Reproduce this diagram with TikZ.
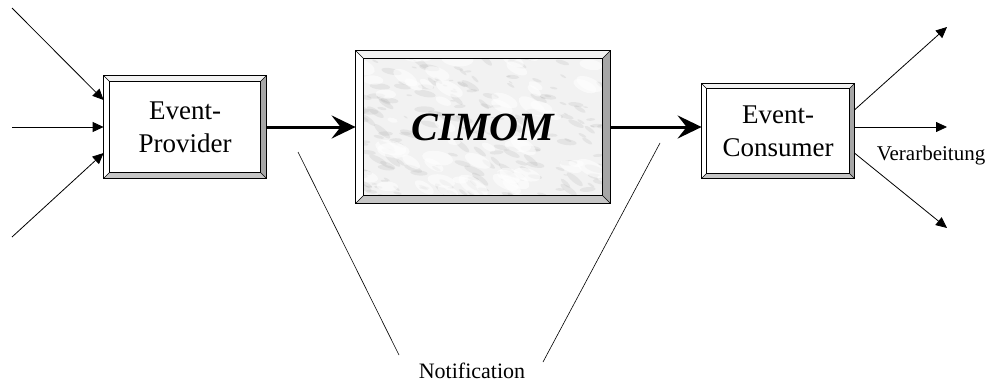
\documentclass[tikz,border=0pt]{standalone}
\usepackage{fontspec}
\setmainfont{Liberation Serif}
\usetikzlibrary{arrows.meta,calc,backgrounds}

\tikzset{
  box/.style={draw, line width=0.8pt, inner sep=0pt, align=center, font=\fontsize{27}{33}\selectfont},
  thin arrow/.style={line width=0.8pt, -{Triangle[length=11pt,width=10pt]}},
  thick arrow/.style={line width=3pt, -{Stealth[length=24pt,width=23pt,inset=9pt]}},
  label text/.style={font=\fontsize{21}{24}\selectfont, inner sep=0pt},
}

% beveled frame round a node: #1 node name, #2 bevel width
\newcommand{\bevelframe}[2]{%
  \fill[gray!10] (#1.north west) -- (#1.north east) -- ($(#1.north east)+(-#2,#2)$) -- ($(#1.north west)+(#2,#2)$) -- cycle;
  \fill[white] (#1.north west) -- (#1.south west) -- ($(#1.south west)+(#2,-#2)$) -- ($(#1.north west)+(#2,#2)$) -- cycle;
  \fill[gray!70] (#1.north east) -- (#1.south east) -- ($(#1.south east)+(-#2,-#2)$) -- ($(#1.north east)+(-#2,#2)$) -- cycle;
  \fill[gray!45] (#1.south west) -- (#1.south east) -- ($(#1.south east)+(-#2,-#2)$) -- ($(#1.south west)+(#2,-#2)$) -- cycle;
  \draw[line width=0.6pt] (#1.north west) -- ($(#1.north west)+(#2,#2)$) (#1.north east) -- ($(#1.north east)+(-#2,#2)$)
    (#1.south west) -- ($(#1.south west)+(#2,-#2)$) (#1.south east) -- ($(#1.south east)+(-#2,-#2)$);
  \draw[line width=0.8pt] ($(#1.north west)+(#2,#2)$) rectangle ($(#1.south east)+(-#2,-#2)$);
  \draw[line width=0.8pt] (#1.north west) rectangle (#1.south east);
}

\begin{document}
\begin{tikzpicture}[x=1pt, y=-1pt]
  \useasboundingbox (0,0) rectangle (993,383);

  %boxes
  \node[box, minimum width=162pt, minimum height=102pt] (prov) at (185,127) {Event-\\Provider};
  \node[box, minimum width=254pt, minimum height=152pt, font=\fontsize{40}{44}\selectfont\bfseries\itshape] (cim) at (483,127) {CIMOM};
  \node[box, minimum width=152pt, minimum height=94pt] (cons) at (778,131) {Event-\\Consumer};

  %marble texture
  \begin{scope}[on background layer]
    \fill[gray!10] (cim.north west) rectangle (cim.south east);
    \clip (cim.north west) rectangle (cim.south east);
    \pgfmathsetseed{23}
    \foreach \i in {1,...,220} {
      \pgfmathsetmacro{\bx}{rnd*254}
      \pgfmathsetmacro{\by}{rnd*152}
      \pgfmathsetmacro{\br}{2+rnd*9}
      \pgfmathsetmacro{\ba}{-45+rnd*50}
      \fill[gray!70, opacity=0.18] ($(cim.north west)+(\bx,\by)$) ellipse [x radius=\br, y radius=0.3*\br, rotate=\ba];
    }
    \foreach \i in {1,...,60} {
      \pgfmathsetmacro{\bx}{rnd*254}
      \pgfmathsetmacro{\by}{rnd*152}
      \pgfmathsetmacro{\br}{5+rnd*12}
      \pgfmathsetmacro{\ba}{-40+rnd*40}
      \fill[white, opacity=0.55] ($(cim.north west)+(\bx,\by)$) ellipse [x radius=\br, y radius=0.45*\br, rotate=\ba];
    }
  \end{scope}

  \bevelframe{prov}{6}
  \bevelframe{cim}{8}
  \bevelframe{cons}{5}

  %inputs
  \coordinate (in1) at (12,8);
  \coordinate (in2) at (12,127);
  \coordinate (in3) at (12,237);
  \draw[thin arrow] (in1) -- ([yshift=27pt]prov.west);
  \draw[thin arrow] (in2) -- (prov.west);
  \draw[thin arrow] (in3) -- ([yshift=-26pt]prov.west);

  %main flow
  \draw[thick arrow] (prov) -- (cim);
  \draw[thick arrow] (cim.east) -- (cim.east -| cons.west);

  %outputs
  \coordinate (out1) at (947,27);
  \coordinate (out2) at (947,127);
  \coordinate (out3) at (947,228);
  \draw[thin arrow] ([yshift=21pt]cons.east) -- (out1);
  \draw[thin arrow] ([yshift=4pt]cons.east) -- (out2);
  \draw[thin arrow] ([yshift=-22pt]cons.east) -- (out3);
  \node[label text] (verarb) at (931,155) {Verarbeitung};

  %notification
  \node[label text, font=\fontsize{22}{24}\selectfont] (notif) at (472,371) {Notification};
  \coordinate (nl1) at (298,152);
  \coordinate (nl2) at (399,355);
  \coordinate (nr1) at (660,143);
  \coordinate (nr2) at (543,362);
  \draw[line width=0.6pt] (nl1) -- (nl2);
  \draw[line width=0.6pt] (nr1) -- (nr2);
\end{tikzpicture}
\end{document}
